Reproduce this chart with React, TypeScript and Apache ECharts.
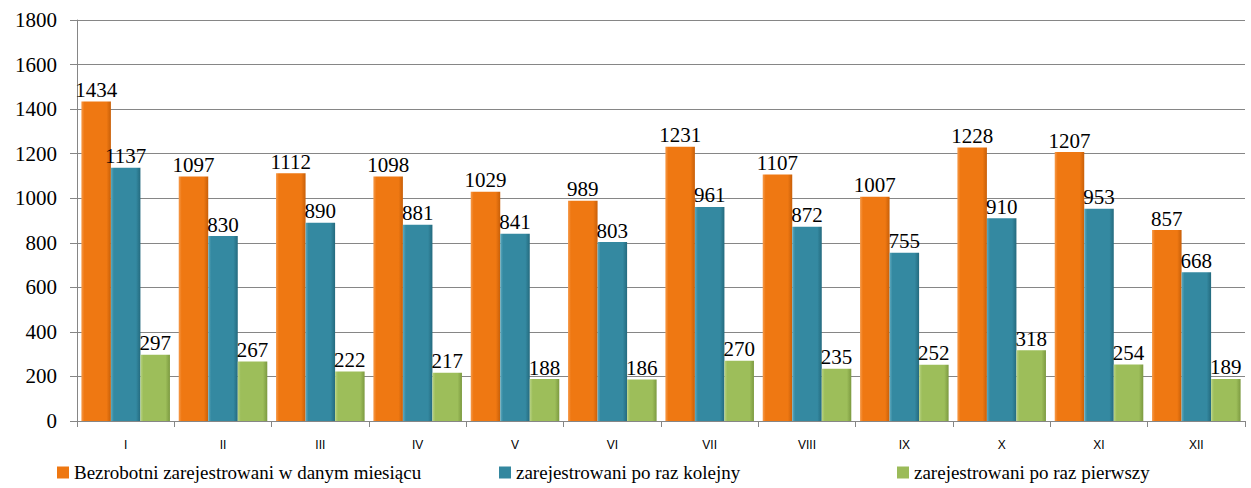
import React, { useEffect, useRef } from "react";
import * as echarts from "echarts";

const categories = ["I", "II", "III", "IV", "V", "VI", "VII", "VIII", "IX", "X", "XI", "XII"];
const seriesNames = [
  "Bezrobotni zarejestrowani w danym miesiącu",
  "zarejestrowani po raz kolejny",
  "zarejestrowani po raz pierwszy",
];
const totalRegistered = [1434, 1097, 1112, 1098, 1029, 989, 1231, 1107, 1007, 1228, 1207, 857];
const registeredAgain = [1137, 830, 890, 881, 841, 803, 961, 872, 755, 910, 953, 668];
const registeredFirst = [297, 267, 222, 217, 188, 186, 270, 235, 252, 318, 254, 189];

const serif = "Liberation Serif";
const sans = "Liberation Sans";

function bevel(dark: string, mid: string, light: string) {
  return new echarts.graphic.LinearGradient(0, 0, 1, 0, [
    { offset: 0, color: light },
    { offset: 0.1, color: mid },
    { offset: 0.85, color: mid },
    { offset: 1, color: dark },
  ]);
}

export default function App() {
  const ref = useRef<HTMLDivElement>(null);
  useEffect(() => {
    if (!ref.current) return;
    const chart = echarts.init(ref.current, null, { renderer: "svg" });
    const colors = [
      { base: "#EE7711", g: bevel("#C85F08", "#EF7812", "#F69A4A") },
      { base: "#33879F", g: bevel("#246A7E", "#3489A1", "#5EA9BE") },
      { base: "#9BBB59", g: bevel("#7C9A40", "#9DBE5A", "#B8D383") },
    ];
    const data = [totalRegistered, registeredAgain, registeredFirst];
    const legendLefts = [57, 499, 897];
    chart.setOption({
      animation: false,
      color: colors.map((c) => c.base),
      grid: { left: 77, right: 6, top: 20, bottom: 67, containLabel: false },
      legend: seriesNames.map((n, i) => ({
        data: [{ name: n, itemStyle: { color: colors[i].base } }],
        left: legendLefts[i],
        top: 463,
        itemWidth: 12,
        itemHeight: 12,
        itemGap: 0,
        icon: "rect",
        textStyle: { fontFamily: serif, fontSize: 19, color: "#000", padding: [2, 0, 0, 0] },
        padding: 0,
      })),
      xAxis: {
        type: "category",
        data: categories,
        axisLine: { lineStyle: { color: "#868686" } },
        axisTick: { show: true, length: 6, lineStyle: { color: "#868686" } },
        axisLabel: { fontFamily: sans, fontSize: 12, color: "#000", margin: 18 },
      },
      yAxis: {
        type: "value",
        min: 0,
        max: 1800,
        interval: 200,
        axisLine: { show: true, lineStyle: { color: "#868686" } },
        axisTick: { show: true, length: 7, lineStyle: { color: "#868686" } },
        axisLabel: {
          fontFamily: serif,
          fontSize: 21,
          color: "#000",
          margin: 20,
          formatter: (v: number) => String(v),
        },
        splitLine: { lineStyle: { color: "#868686" } },
      },
      series: seriesNames.map((n, i) => ({
        name: n,
        type: "bar",
        data: data[i],
        barGap: "0%",
        barCategoryGap: "9%",
        itemStyle: { color: colors[i].g },
        label: {
          show: true,
          position: "top",
          distance: 1,
          fontFamily: serif,
          fontSize: 21,
          color: "#000",
        },
      })),
    });
    return () => chart.dispose();
  }, []);
  return <div ref={ref} style={{ width: 1251, height: 488, position: "absolute", left: 0, top: 0 }} />;
}
